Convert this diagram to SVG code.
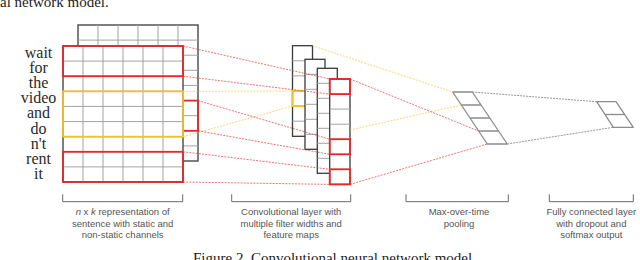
<svg xmlns="http://www.w3.org/2000/svg" width="640" height="260" viewBox="0 0 640 260">
<style>
.bg{fill:#fff}
.cell{fill:#fff;stroke:#3a3a3a;stroke-width:1.3}
.inner{fill:none;stroke:#a3a3a3;stroke-width:1}
.red{fill:none;stroke:#e8272b;stroke-width:1.8}
.yel{fill:none;stroke:#f4bd2a;stroke-width:1.8}
.word{font-family:"Liberation Serif","Times New Roman",serif;font-size:16px;fill:#2a2a2a;text-anchor:middle}
.cap{font-family:"Liberation Sans",Arial,sans-serif;font-size:9.5px;fill:#555;text-anchor:middle}
.title{font-family:"Liberation Serif","Times New Roman",serif;font-size:15px;fill:#222}
.cr{fill:none;stroke:#e5474a;stroke-width:0.9;stroke-dasharray:2 1.2;opacity:0.85}
.cy{fill:none;stroke:#f6cc55;stroke-width:0.9;stroke-dasharray:2 1.2;opacity:0.9}
.cg{fill:none;stroke:#8a8a8a;stroke-width:0.9;stroke-dasharray:2 1}
.pool{fill:#fff;stroke:#8c8c8c;stroke-width:1.3;stroke-linejoin:round}
.brk{fill:none;stroke:#6a6a6a;stroke-width:1}
</style>
<rect class="bg" x="0" y="0" width="640" height="260"/>
<text class="title" x="0" y="7">al network model.</text>

<g id="sentence-matrix">
  <g id="static-channel">
    <rect class="cell" x="78" y="25" width="120" height="136"/>
    <path class="inner" d="M98 25V161M118 25V161M138 25V161M158 25V161M178 25V161M78 40.1H198M78 55.2H198M78 70.3H198M78 85.4H198M78 100.6H198M78 115.7H198M78 130.8H198M78 145.9H198"/>
    <rect class="red" x="78" y="100.6" width="120" height="30.2"/>
  </g>
  <g id="nonstatic-channel">
    <rect class="cell" x="63" y="46" width="120" height="136"/>
    <path class="inner" d="M83 46V182M103 46V182M123 46V182M143 46V182M163 46V182M63 61.1H183M63 76.2H183M63 91.3H183M63 106.4H183M63 121.6H183M63 136.7H183M63 151.8H183M63 166.9H183"/>
    <rect class="red" x="63" y="46" width="120" height="30.2"/>
    <rect class="yel" x="63" y="91.3" width="120" height="45.4"/>
    <rect class="red" x="63" y="151.8" width="120" height="30.2"/>
  </g>
  <g id="words">
    <text class="word" x="38.5" y="58">wait</text>
    <text class="word" x="38.5" y="73.1">for</text>
    <text class="word" x="38.5" y="88.2">the</text>
    <text class="word" x="38.5" y="103.3">video</text>
    <text class="word" x="38.5" y="118.4">and</text>
    <text class="word" x="38.5" y="133.5">do</text>
    <text class="word" x="38.5" y="148.6">n't</text>
    <text class="word" x="38.5" y="163.7">rent</text>
    <text class="word" x="38.5" y="178.8">it</text>
  </g>
</g>

<g id="conv-layer">
  <g id="map1">
    <rect class="cell" x="292.5" y="45.7" width="20" height="90.6"/>
    <path class="inner" d="M292.5 60.8H312.5M292.5 75.9H312.5M292.5 91H312.5M292.5 106.1H312.5M292.5 121.2H312.5"/>
    <rect class="yel" x="292.5" y="91" width="20" height="15.1"/>
  </g>
  <g id="map2">
    <rect class="cell" x="305" y="59.3" width="20" height="90"/>
    <path class="inner" d="M305 74.3H325M305 89.3H325M305 104.3H325M305 119.3H325M305 134.3H325"/>
  </g>
  <g id="map3">
    <rect class="cell" x="317.3" y="68.3" width="20" height="105"/>
    <path class="inner" d="M317.3 83.3H337.3M317.3 98.3H337.3M317.3 113.3H337.3M317.3 128.3H337.3M317.3 143.3H337.3M317.3 158.3H337.3"/>
  </g>
  <g id="map4">
    <rect class="cell" x="329.7" y="79" width="20.3" height="105.4"/>
    <path class="inner" d="M329.7 94.1H350M329.7 109.1H350M329.7 124.2H350M329.7 139.2H350M329.7 154.3H350M329.7 169.3H350"/>
    <rect class="red" x="329.7" y="79" width="20.3" height="15.1"/>
    <rect class="red" x="329.7" y="139.2" width="20.3" height="15.1"/>
    <rect class="red" x="329.7" y="169.3" width="20.3" height="15.1"/>
  </g>
</g>

<g id="pooling">
  <path class="pool" d="M452.7 92H472.3L507.3 144H487.3Z"/>
  <path class="pool" d="M461.3 105H481M470 118H489.6M478.6 131H498.3"/>
</g>

<g id="fully-connected">
  <path class="pool" d="M596.7 101.7H616L633.3 127.3H613.3Z"/>
  <path class="pool" d="M605 114.5H624.6"/>
</g>

<g id="connectors">
  <path class="cr" d="M183 46L329.7 79"/>
  <path class="cr" d="M183 76.2L329.7 94.1"/>
  <path class="cy" d="M183 91.3L292.5 91"/>
  <path class="cy" d="M183 136.7L292.5 106.1"/>
  <path class="cr" d="M198 100.6L329.7 139.2"/>
  <path class="cr" d="M198 130.8L329.7 154.3"/>
  <path class="cr" d="M183 151.8L329.7 169.3"/>
  <path class="cr" d="M183 182L329.7 184.4"/>
  <path class="cy" d="M312.5 45.7L452.7 92"/>
  <path class="cy" d="M350 130L461.3 105"/>
  <path class="cr" d="M350 79L478.6 131"/>
  <path class="cr" d="M350 184.4L487.3 144"/>
  <path class="cg" d="M472.3 92L596.7 101.7"/>
  <path class="cg" d="M507.3 144L613.3 127.3"/>
</g>

<g id="brackets">
  <path class="brk" d="M62.7 194.3V201.7H182.7V194.3"/>
  <path class="brk" d="M231.7 194.3V201.7H350.7V194.3"/>
  <path class="brk" d="M406 194.3V201.7H508.3V194.3"/>
  <path class="brk" d="M549.3 194.3V201.7H633.3V194.3"/>
</g>

<g id="captions">
  <text class="cap" x="122.7" y="215"><tspan font-style="italic">n</tspan> x <tspan font-style="italic">k</tspan> representation of</text>
  <text class="cap" x="122.7" y="226.5">sentence with static and</text>
  <text class="cap" x="122.7" y="238">non-static channels</text>
  <text class="cap" x="291.2" y="215">Convolutional layer with</text>
  <text class="cap" x="291.2" y="226.5">multiple filter widths and</text>
  <text class="cap" x="291.2" y="238">feature maps</text>
  <text class="cap" x="459" y="215">Max-over-time</text>
  <text class="cap" x="459" y="226.5">pooling</text>
  <text class="cap" x="591.3" y="215">Fully connected layer</text>
  <text class="cap" x="591.3" y="226.5">with dropout and</text>
  <text class="cap" x="591.3" y="238">softmax output</text>
</g>

<text class="title" x="193" y="262.5">Figure 2. Convolutional neural network model</text>
</svg>
